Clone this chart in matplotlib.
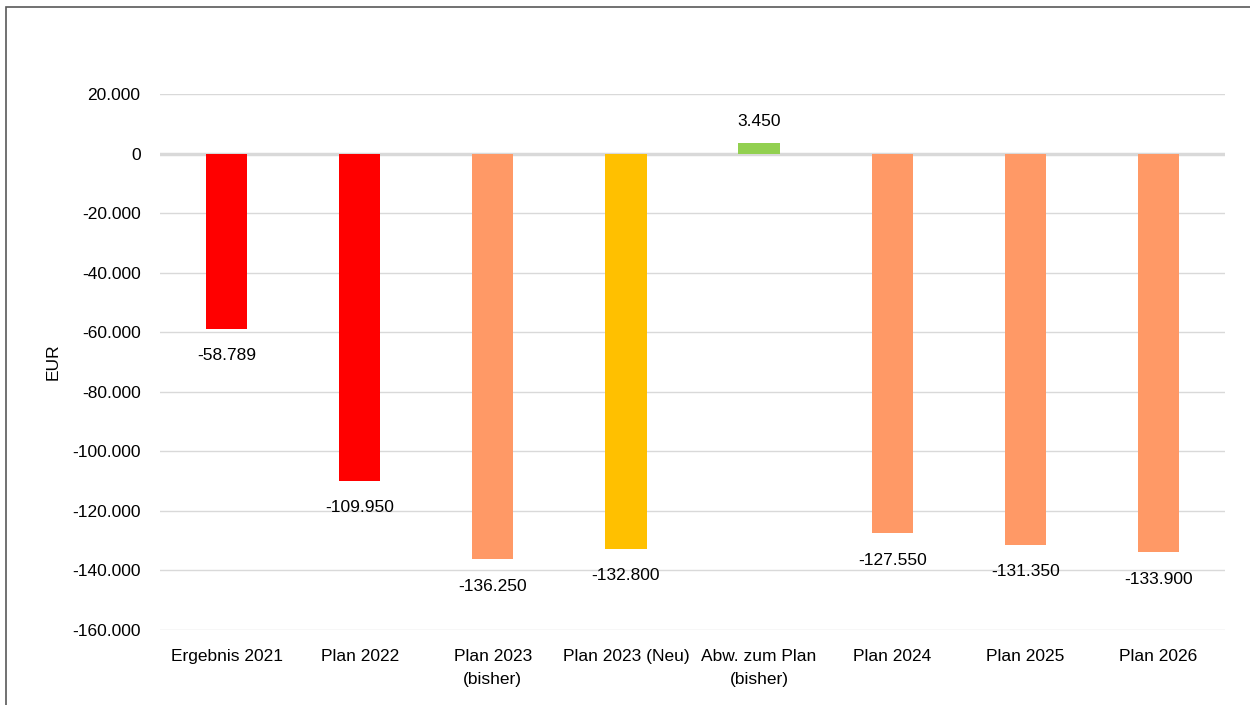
import matplotlib
matplotlib.use("Agg")
import matplotlib.pyplot as plt
from matplotlib.patches import Rectangle
from matplotlib.ticker import FuncFormatter

kategorien = ["Ergebnis 2021", "Plan 2022", "Plan 2023\n(bisher)", "Plan 2023 (Neu)",
              "Abw. zum Plan\n(bisher)", "Plan 2024", "Plan 2025", "Plan 2026"]
werte = [-58789, -109950, -136250, -132800, 3450, -127550, -131350, -133900]
farben = ["#FF0000", "#FF0000", "#FF9966", "#FFC000", "#92D050", "#FF9966", "#FF9966", "#FF9966"]
y_ticks = [20000, 0, -20000, -40000, -60000, -80000, -100000, -120000, -140000, -160000]


def de_fmt(v):
    return f"{v:,.0f}".replace(",", ".")


plt.rcParams["font.family"] = ["Liberation Sans", "DejaVu Sans"]

fig = plt.figure(figsize=(12.5, 7.05), dpi=100)
ax = fig.add_axes([0.128, 0.1064, 0.852, 0.7603])

# Rahmen
fig.patches.append(Rectangle((6 / 1250, -0.1), 2, 1 - 7 / 705 + 0.1, transform=fig.transFigure,
                             fill=False, edgecolor="#595959", linewidth=1.2))

x = range(len(kategorien))
ax.bar(x, werte, width=0.31, color=farben, zorder=2)

for i, v in enumerate(werte):
    if v < 0:
        ax.annotate(de_fmt(v), (i, v), xytext=(0, -14), textcoords="offset points",
                    ha="center", va="top", fontsize=12.5, color="#000000")
    else:
        ax.annotate(de_fmt(v), (i, v), xytext=(0, 10), textcoords="offset points",
                    ha="center", va="bottom", fontsize=12.5, color="#000000")

ax.set_ylim(-160000, 20000)
ax.set_xlim(-0.5, len(kategorien) - 0.5)
ax.set_yticks(y_ticks)
ax.yaxis.set_major_formatter(FuncFormatter(lambda v, p: de_fmt(v)))
ax.set_xticks(list(x))
ax.set_xticklabels(kategorien, fontsize=12.5, linespacing=1.65)
ax.tick_params(axis="y", labelsize=12.5, length=0, pad=14)
ax.tick_params(axis="x", length=0, pad=14)
ax.grid(axis="y", color="#D9D9D9", linewidth=1, zorder=0)
ax.axhline(0, color="#D9D9D9", linewidth=2.5, zorder=1)
for s in ax.spines.values():
    s.set_visible(False)
ax.set_ylabel("EUR", fontsize=12.5, labelpad=8.5)

fig.savefig("out.png", dpi=100, facecolor="white")
